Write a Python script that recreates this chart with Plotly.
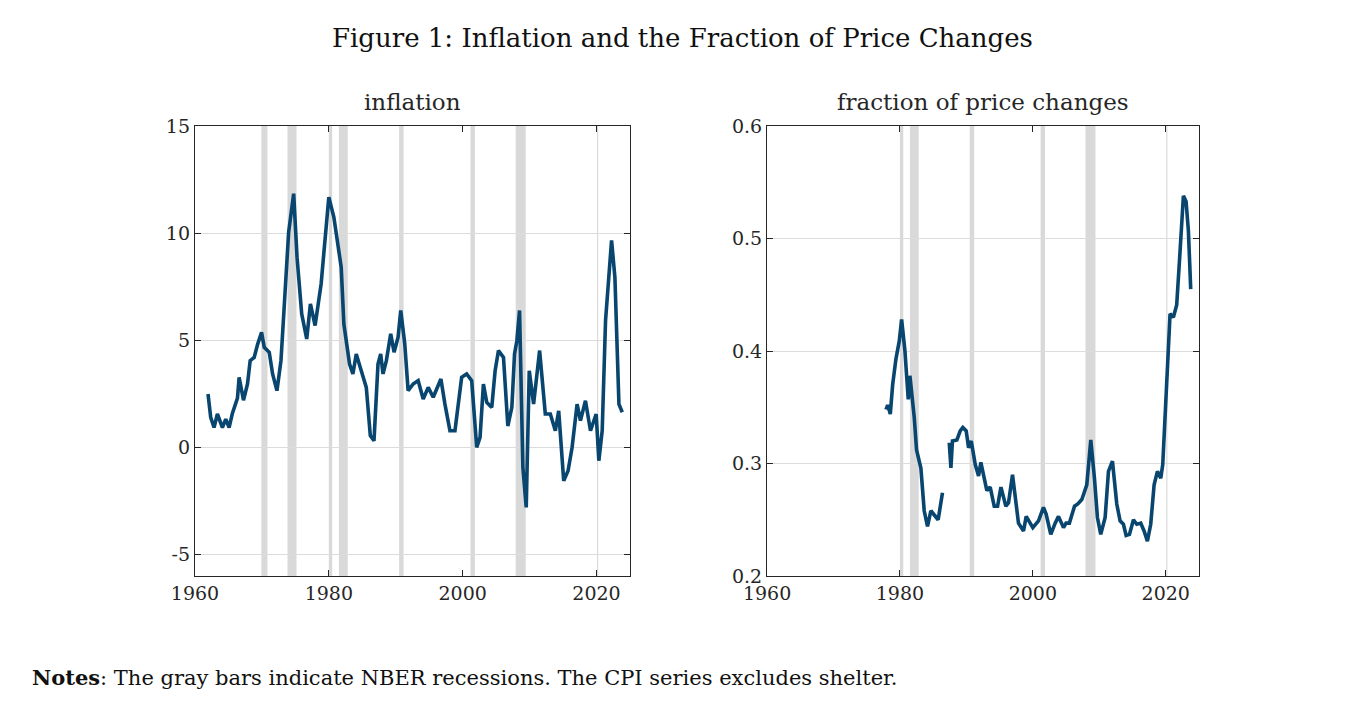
import plotly.graph_objects as go

# inflation (CPI ex shelter), annualised %
infl_year = [1961.95, 1962.35, 1962.85, 1963.35, 1964.1, 1964.6, 1965.1, 1965.6, 1966.35, 1966.6,
             1967.25, 1967.85, 1968.25, 1968.85, 1969.35, 1969.95, 1970.35, 1971.1, 1971.6, 1972.25,
             1972.85, 1973.35, 1974.0, 1974.75, 1975.25, 1975.95, 1976.7, 1977.25, 1977.95, 1978.85,
             1979.5, 1980.0, 1980.75, 1981.35, 1981.85, 1982.25, 1983.1, 1983.6, 1984.1, 1984.85,
             1985.6, 1986.2, 1986.75, 1987.35, 1987.75, 1988.1, 1988.6, 1989.25, 1989.75, 1990.35,
             1990.75, 1991.35, 1991.85, 1992.6, 1993.35, 1994.1, 1994.85, 1995.6, 1996.75, 1997.35,
             1998.1, 1998.85, 1999.85, 2000.6, 2001.35, 2002.1, 2002.6, 2003.1, 2003.6, 2004.35,
             2004.85, 2005.35, 2006.1, 2006.75, 2007.35, 2007.75, 2008.1, 2008.5, 2009.0, 2009.5,
             2009.95, 2010.6, 2011.5, 2012.35, 2013.1, 2013.85, 2014.35, 2015.1, 2015.75, 2016.35,
             2017.1, 2017.6, 2018.35, 2019.1, 2019.95, 2020.35, 2020.85, 2021.35, 2022.25, 2022.75,
             2023.35, 2023.85]
infl_value = [2.49, 1.4, 0.93, 1.56, 0.93, 1.32, 0.93, 1.6, 2.3, 3.27,
              2.2, 2.96, 4.05, 4.2, 4.8, 5.37, 4.67, 4.44, 3.43, 2.65,
              4.05, 6.54, 10.05, 11.84, 8.88, 6.23, 5.06, 6.7, 5.69, 7.63,
              10.12, 11.68, 10.75, 9.35, 8.41, 5.76, 3.89, 3.43, 4.36, 3.58,
              2.8, 0.55, 0.31, 3.89, 4.36, 3.43, 4.05, 5.3, 4.44, 5.14,
              6.39, 4.83, 2.65, 2.96, 3.12, 2.26, 2.8, 2.34, 3.19, 2.02,
              0.78, 0.78, 3.27, 3.43, 3.12, 0.0, 0.47, 2.96, 2.1, 1.87,
              3.58, 4.52, 4.2, 1.0, 1.87, 4.36, 4.98, 6.39, -0.93, -2.8,
              3.58, 2.02, 4.52, 1.56, 1.56, 0.78, 1.71, -1.56, -1.09, 0.0,
              2.02, 1.25, 2.18, 0.78, 1.56, -0.62, 0.78, 5.92, 9.66, 7.94,
              2.02, 1.64]

# fraction of price changes (None = gap in the series)
frac_year = [1977.9, 1978.15, 1978.55, 1978.9, 1979.4, 1979.9, 1980.25, 1980.75, 1981.25, 1981.5,
             1982.15, 1982.5, 1983.15, 1983.65, 1984.15, 1984.65, 1985.75, 1986.4, 1986.9,
             1987.42, 1987.67, 1987.9, 1988.57, 1989.07, 1989.47, 1989.97, 1990.33, 1990.73, 1991.33,
             1991.83, 1992.18, 1993.08, 1993.58, 1994.19, 1994.69, 1995.2, 1995.94, 1996.34, 1996.94,
             1997.84, 1998.6, 1999.0, 2000.0, 2000.85, 2001.6, 2002.0, 2002.7, 2003.36, 2003.86,
             2004.61, 2005.0, 2005.5, 2006.27, 2006.77, 2007.37, 2008.12, 2008.72, 2009.27, 2009.72,
             2010.22, 2010.88, 2011.38, 2011.98, 2012.63, 2013.13, 2013.63, 2014.04, 2014.54, 2015.14,
             2015.64, 2016.24, 2016.74, 2017.24, 2017.74, 2018.25, 2018.75, 2019.25, 2019.55, 2020.15,
             2020.65, 2021.15, 2021.65, 2022.16, 2022.66, 2023.06, 2023.41, 2023.76]
frac_value = [0.348, 0.352, 0.344, 0.370, 0.393, 0.409, 0.428, 0.400, 0.357, 0.378,
              0.341, 0.312, 0.296, 0.258, 0.244, 0.258, 0.250, 0.274, None,
              0.3185, 0.296, 0.320, 0.321, 0.329, 0.332, 0.329, 0.314, 0.320, 0.299,
              0.289, 0.301, 0.276, 0.279, 0.262, 0.262, 0.279, 0.262, 0.265, 0.290,
              0.247, 0.240, 0.253, 0.243, 0.249, 0.261, 0.255, 0.237, 0.247, 0.253,
              0.243, 0.247, 0.247, 0.262, 0.264, 0.268, 0.281, 0.321, 0.287, 0.252,
              0.237, 0.252, 0.293, 0.302, 0.264, 0.249, 0.246, 0.236, 0.237, 0.250,
              0.246, 0.247, 0.240, 0.231, 0.246, 0.281, 0.293, 0.287, 0.299, 0.370,
              0.433, 0.430, 0.441, 0.489, 0.538, 0.533, 0.507, 0.455]

# NBER recessions (start, end) in fractional years
rec_start = [1969.92, 1973.83, 1980.0, 1981.5, 1990.5, 2001.17, 2007.92, 2020.08]
rec_end = [1970.83, 1975.17, 1980.5, 1982.83, 1991.17, 2001.83, 2009.42, 2020.25]
# the right panel only shades recessions inside its sample
frac_first_year = 1977

FONT = "DejaVu Serif"
LINE = "#08456f"
REC = "#d9d9d9"
TXT = "#262626"

fig = go.Figure()
fig.add_trace(go.Scatter(x=infl_year, y=infl_value, mode="lines",
                         line=dict(color=LINE, width=3.6), xaxis="x", yaxis="y"))
fig.add_trace(go.Scatter(x=frac_year, y=frac_value, mode="lines", connectgaps=False,
                         line=dict(color=LINE, width=3.6), xaxis="x2", yaxis="y2"))

shapes = []
for s, e in zip(rec_start, rec_end):
    shapes.append(dict(type="rect", xref="x", yref="y domain", x0=s, x1=e, y0=0, y1=1,
                       fillcolor=REC, line_width=0, layer="below"))
    if s >= frac_first_year:
        shapes.append(dict(type="rect", xref="x2", yref="y2 domain", x0=s, x1=e, y0=0, y1=1,
                           fillcolor=REC, line_width=0, layer="below"))

axis_common = dict(showline=True, linecolor=TXT, linewidth=1.3, mirror="ticks",
                   ticks="inside", ticklen=6, tickcolor=TXT, automargin=False,
                   tickfont=dict(family=FONT, size=19, color=TXT), zeroline=False)

fig.update_layout(
    width=1348, height=710,
    margin=dict(l=0, r=0, t=0, b=0),
    paper_bgcolor="white", plot_bgcolor="white",
    showlegend=False,
    font=dict(family=FONT, color=TXT),
    shapes=shapes,
    xaxis=dict(domain=[0.1387, 0.4614], range=[1960, 2025], tickvals=[1960, 1980, 2000, 2020],
               showgrid=False, anchor="y", **axis_common),
    yaxis=dict(domain=[0.2, 0.8338], range=[-6, 15], tickvals=[-5, 0, 5, 10, 15],
               ticktext=["-5", "0", "5", "10", "15"],
               showgrid=True, gridcolor="#dcdcdc", anchor="x", **axis_common),
    xaxis2=dict(domain=[0.5631, 0.8835], range=[1960, 2025], tickvals=[1960, 1980, 2000, 2020],
                showgrid=False, anchor="y2", **axis_common),
    yaxis2=dict(domain=[0.2, 0.8338], range=[0.2, 0.6], tickvals=[0.2, 0.3, 0.4, 0.5, 0.6],
                tickformat=".1f", showgrid=True, gridcolor="#dcdcdc", anchor="x2", **axis_common),
    annotations=[
        dict(text="Figure 1: Inflation and the Fraction of Price Changes", xref="paper", yref="paper",
             x=0.5, y=0.958, xanchor="center", yanchor="middle", showarrow=False,
             font=dict(family=FONT, size=26, color="#111")),
        dict(text="inflation", xref="paper", yref="paper", x=0.3, y=0.868,
             xanchor="center", yanchor="middle", showarrow=False,
             font=dict(family=FONT, size=23, color=TXT)),
        dict(text="fraction of price changes", xref="paper", yref="paper", x=0.7233, y=0.868,
             xanchor="center", yanchor="middle", showarrow=False,
             font=dict(family=FONT, size=23, color=TXT)),
        dict(text="<b>Notes</b>: The gray bars indicate NBER recessions. The CPI series excludes shelter.",
             xref="paper", yref="paper", x=0.016, y=0.057, xanchor="left", yanchor="middle",
             showarrow=False, font=dict(family=FONT, size=21, color="#111")),
    ],
)

fig.write_html("out.html")
